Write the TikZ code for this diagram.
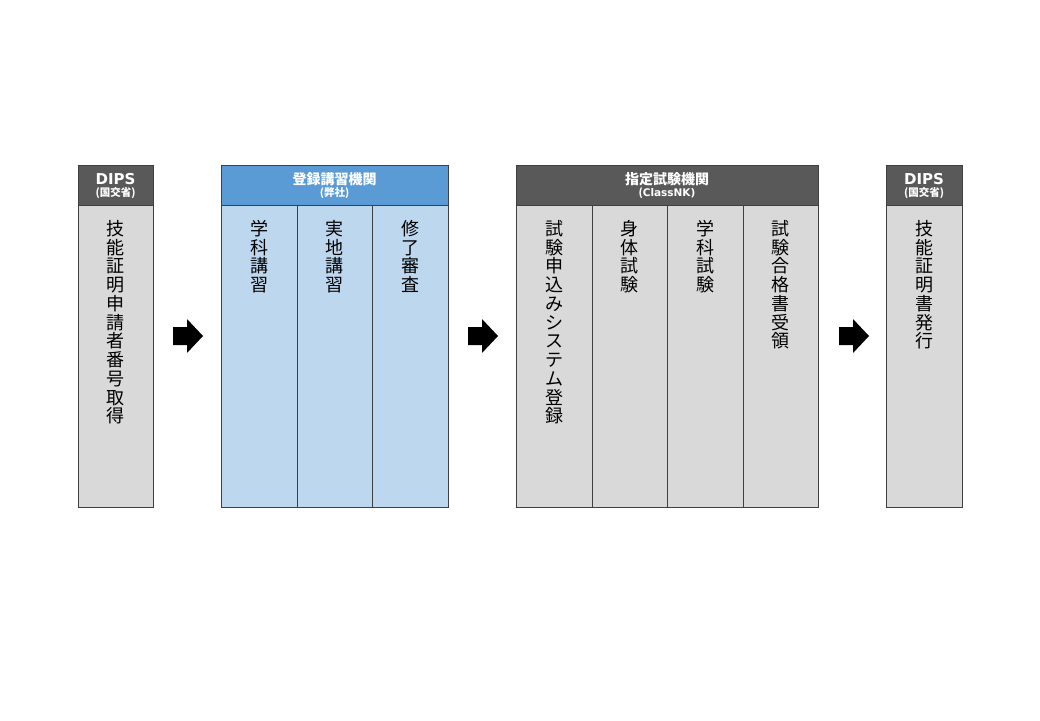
\documentclass[tikz,border=0pt]{standalone}
\usepackage{fontspec}
\setmainfont{Noto Sans CJK JP}
\newfontfamily\latinb{DejaVu Sans}
\definecolor{bordc}{HTML}{3F3F3F}
\definecolor{hdrgray}{HTML}{595959}
\definecolor{bodygray}{HTML}{D9D9D9}
\definecolor{hdrblue}{HTML}{5B9BD5}
\definecolor{bodyblue}{HTML}{BDD7EE}
\begin{document}
\begin{tikzpicture}[x=1pt,y=-1pt]
\tikzset{
  cell/.style={draw=bordc, line width=0.9pt, anchor=north west, inner sep=0pt, outer sep=0pt},
  hdrg/.style={cell, fill=hdrgray},
  hdrb/.style={cell, fill=hdrblue},
  bodyg/.style={cell, fill=bodygray},
  bodyb/.style={cell, fill=bodyblue},
  vt/.style={anchor=north, align=center, inner sep=0pt, font=\fontsize{18}{18.75}\selectfont},
  htitle/.style={text=white, inner sep=0pt, font=\bfseries\fontsize{14}{14}\selectfont},
  dipstitle/.style={text=white, inner sep=0pt, font=\latinb\bfseries\fontsize{15}{15}\selectfont},
  hsub/.style={text=white, inner sep=0pt, font=\bfseries\fontsize{10.5}{10.5}\selectfont},
  blockarrow/.style={fill=black, draw=none},
}
\useasboundingbox (0,0) rectangle (1040,720);
\fill[white] (0,0) rectangle (1040,720);

% ---- Box 1 : DIPS
\node[hdrg, minimum width=75pt, minimum height=40pt] (h1) at (78,165) {};
\node[bodyg, minimum width=75pt, minimum height=302pt] (c1) at (78,205) {};
\node[dipstitle] (h1t) at (115.5,179) {DIPS};
\node[hsub] (h1s) at (115.5,193) {(国交省)};
\node[vt] (t1) at (115.5,220) {技\\能\\証\\明\\申\\請\\者\\番\\号\\取\\得};

% ---- Box 2 : 登録講習機関
\node[hdrb, minimum width=227pt, minimum height=40pt] (h2) at (221,165) {};
\node[bodyb, minimum width=76pt, minimum height=302pt] (c21) at (221,205) {};
\node[bodyb, minimum width=75pt, minimum height=302pt] (c22) at (297,205) {};
\node[bodyb, minimum width=76pt, minimum height=302pt] (c23) at (372,205) {};
\node[htitle] (h2t) at (334.5,179) {登録講習機関};
\node[hsub] (h2s) at (334.5,193) {(弊社)};
\node[vt] (t21) at (259,220) {学\\科\\講\\習};
\node[vt] (t22) at (334.5,220) {実\\地\\講\\習};
\node[vt] (t23) at (410,220) {修\\了\\審\\査};

% ---- Box 3 : 指定試験機関
\node[hdrg, minimum width=302pt, minimum height=40pt] (h3) at (516,165) {};
\node[bodyg, minimum width=76pt, minimum height=302pt] (c31) at (516,205) {};
\node[bodyg, minimum width=75pt, minimum height=302pt] (c32) at (592,205) {};
\node[bodyg, minimum width=76pt, minimum height=302pt] (c33) at (667,205) {};
\node[bodyg, minimum width=75pt, minimum height=302pt] (c34) at (743,205) {};
\node[htitle] (h3t) at (667,179) {指定試験機関};
\node[hsub] (h3s) at (667,193) {(\latinb\bfseries ClassNK)};
\node[vt] (t31) at (554,220) {試\\験\\申\\込\\み\\シ\\ス\\テ\\ム\\登\\録};
\node[vt] (t32) at (629.5,220) {身\\体\\試\\験};
\node[vt] (t33) at (705,220) {学\\科\\試\\験};
\node[vt] (t34) at (780.5,220) {試\\験\\合\\格\\書\\受\\領};

% ---- Box 4 : DIPS
\node[hdrg, minimum width=76pt, minimum height=40pt] (h4) at (886,165) {};
\node[bodyg, minimum width=76pt, minimum height=302pt] (c4) at (886,205) {};
\node[dipstitle] (h4t) at (924,179) {DIPS};
\node[hsub] (h4s) at (924,193) {(国交省)};
\node[vt] (t4) at (924,220) {技\\能\\証\\明\\書\\発\\行};

% ---- block arrows
\foreach \ax/\nm in {173/a1, 468/a2, 839/a3}{
  \coordinate (\nm) at (\ax,336);
  \fill[blockarrow] (\nm) ++(0,-9) -- ++(14,0) -- ++(0,-8) -- ++(16,17)
        -- ++(-16,17) -- ++(0,-8) -- ++(-14,0) -- cycle;
}
\end{tikzpicture}
\end{document}
